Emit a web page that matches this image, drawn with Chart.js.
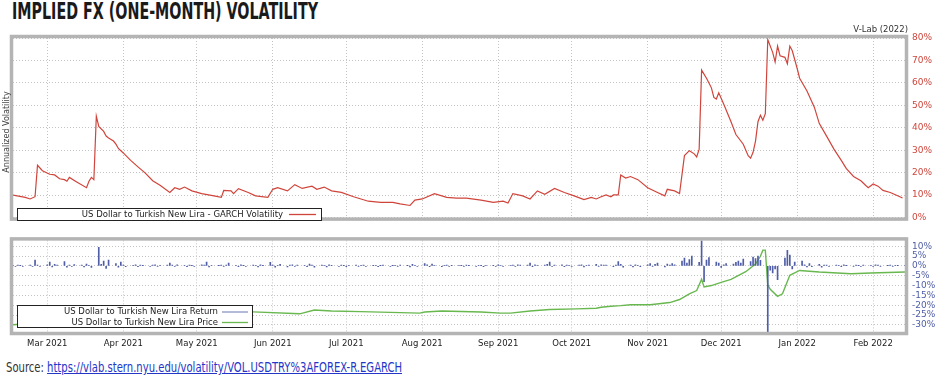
<!DOCTYPE html>
<html>
<head>
<meta charset="utf-8">
<script src="https://cdn.jsdelivr.net/npm/chart.js@4.4.1/dist/chart.umd.min.js"></script>
<style>
  html, body { margin: 0; padding: 0; background: #fff; }
  body { width: 939px; height: 390px; position: relative; overflow: hidden; }
  .title {
    position: absolute; left: 12px; top: 0;
    font: bold 23px/23px 'Liberation Sans Narrow', 'DejaVu Sans Condensed', sans-serif;
    color: #1a1a1a; white-space: nowrap; transform-origin: left top;
  }
  .source {
    position: absolute; left: 6px; top: 360px;
    font: 14px/14px 'Liberation Sans Narrow', 'DejaVu Sans Condensed', sans-serif;
    color: #333; white-space: nowrap; transform-origin: left top;
  }
  .source a { color: #2436c8; text-decoration: underline; }
  canvas { position: absolute; left: 0; }
  #volChart { top: 0; }
  #retChart { top: 228px; }
</style>
</head>
<body>
<div class="title" id="title">IMPLIED FX (ONE-MONTH) VOLATILITY</div>
<canvas id="volChart" width="939" height="230"></canvas>
<canvas id="retChart" width="939" height="122"></canvas>
<div class="source" id="source">Source: <a href="https://vlab.stern.nyu.edu/volatility/VOL.USDTRY%3AFOREX-R.EGARCH">https://vlab.stern.nyu.edu/volatility/VOL.USDTRY%3AFOREX-R.EGARCH</a></div>
<script>
// x axis = days since 15 Feb 2021
const monthDays = [14, 45, 75, 106, 136, 167, 198, 228, 259, 289, 320, 351];
const monthLabels = ['Mar 2021', 'Apr 2021', 'May 2021', 'Jun 2021', 'Jul 2021', 'Aug 2021',
                     'Sep 2021', 'Oct 2021', 'Nov 2021', 'Dec 2021', 'Jan 2022', 'Feb 2022'];

// GARCH volatility (%)
const volDays = [0, 5, 7, 9, 10, 12, 15, 17, 19, 21, 22, 23, 26, 30, 31, 32, 33, 34, 35, 37,
  38, 39, 41, 42, 43, 45, 48, 51, 54, 57, 60, 64, 66, 68, 70, 73, 77, 82, 85, 86,
  89, 90, 92, 96, 99, 104, 106, 108, 112, 115, 118, 122, 124, 127, 130, 134, 139, 145, 150, 155,
  158, 162, 164, 167, 172, 177, 181, 185, 191, 196, 200, 202, 204, 208, 211, 214, 217, 221, 225, 229,
  233, 236, 238, 240, 242, 244, 245, 247, 248, 250, 252, 255, 259, 263, 266, 267, 270, 272, 274, 276,
  278, 279, 280, 281, 283, 285, 286, 287, 288, 290, 293, 295, 298, 300, 301, 302, 303, 304, 305, 306,
  307, 308, 310, 311, 312, 313, 315, 316, 317, 318, 320, 321, 324, 327, 329, 332, 335, 338, 340, 343,
  346, 348, 349, 351, 353, 355, 358, 361, 363];
const volValues = [10, 9, 8.3, 9.3, 23.3, 20.9, 19.3, 19, 17.3, 16.9, 16.2, 17.9, 15.9, 13.3, 16.2, 17.9, 16.9, 45.2, 40.6, 38.4,
  36.3, 35.5, 34.1, 32.7, 30.8, 28.8, 25.5, 22.6, 19.8, 16.4, 14.4, 11.2, 13.3, 12.6, 13.6, 11.9, 10.7, 9.7, 9, 12.1,
  11.9, 10.7, 12.9, 11.2, 9.7, 9, 12.6, 13.3, 11.9, 14.7, 13, 14, 12.6, 13.6, 11.9, 11.2, 9.3, 7.3, 6.8, 6.8,
  6.1, 5.4, 7.8, 8.3, 10.7, 9, 8.7, 8.7, 7.8, 6.8, 7.3, 6.5, 10.7, 9.7, 8.3, 11.9, 10.4, 13, 11.2, 9.7,
  8, 9, 8.3, 9.3, 10.1, 9.3, 10.1, 10.1, 19, 17.6, 18.3, 16.9, 13.3, 11.2, 9.7, 12.6, 11.9, 10.7, 27.6, 29.8,
  28.4, 27, 30.5, 65.7, 62.1, 57.8, 53.5, 52.8, 55.6, 50.6, 42.7, 37, 32.7, 27.6, 26.5, 29.1, 34.1, 42.7, 45.6, 43.4,
  46.3, 79.3, 73.6, 69.3, 76.4, 72.1, 71.4, 68.5, 76.4, 74.3, 66.4, 62.1, 56.4, 49.2, 42, 36.3, 30.5, 25.5, 21.9, 18.3,
  16.4, 14.3, 13.3, 15, 14, 12.1, 11.2, 9.7, 8.7];
const volTicks = [0, 10, 20, 30, 40, 50, 60, 70, 80];

// daily return (%), one value per weekday from Mon 15 Feb 2021
const retValues = [
  0.3, -0.2, 0.4, 0.2, -0.3,   0.4, -0.3, 3.0, 0.5, -0.2,   0.6, 2.0, -0.5, 0.8, 0.4,
  2.2, -0.6, 0.5, -0.3, 0.7,   0.4, -0.5, 0.9, 0.3, -0.8,   9.5, 0.8, 2.5, -1.2, 3.0,
  1.2, -0.6, 2.0, 0.5, -0.4,   0.3, 0.6, -0.4, 0.5, 0.2,   -0.3, 0.4, 0.6, -0.2, 0.3,
  0.5, 1.5, 0.4, -0.3, 0.6,   0.3, -0.4, 0.5, 0.2, -0.3,   0.6, 0.4, 2.0, -0.5, 0.3,
  0.2, 0.5, -0.3, 0.4, 1.5,   0.3, -0.4, 0.6, 0.2, -0.3,   0.4, 0.3, -0.5, 0.6, 0.2,
  1.8, 0.5, -0.6, 0.3, 0.8,   -0.5, 0.4, 0.6, -0.3, 0.5,   0.3, -0.4, 1.0, 0.5, -0.6,
  0.4, 0.3, -0.5, 0.6, 0.2,   -0.3, 0.5, 0.2, -0.4, 0.3,   0.4, -0.2, 0.3, 0.5, -0.3,
  0.2, 0.3, -0.4, 0.2, 0.4,   -0.3, 0.2, 0.3, -0.2, 0.4,   0.2, -0.5, 0.8, 0.3, -0.2,
  1.2, 0.6, -0.4, 0.9, 0.3,   -0.4, 0.3, 0.5, -0.3, 0.2,   0.3, 0.2, -0.3, 0.4, 0.2,
  -0.2, 0.3, 0.2, -0.4, 0.3,   0.2, -0.3, 0.6, 0.3, -0.2,   0.3, 0.5, -0.3, 0.6, 0.4,
  0.5, 1.5, -0.4, 0.6, 0.3,   0.4, 0.8, 2.0, -0.3, 0.5,   0.6, -0.4, 0.5, 0.3, -0.3,
  0.4, 0.6, -0.5, 0.3, 0.5,   0.8, -0.3, 0.6, 0.4, 0.5,   -0.4, 0.5, 2.2, 0.8, -0.6,
  0.5, -0.5, 0.6, 0.3, -0.4,   0.6, 1.2, -0.3, 0.8, 1.5,   -0.5, 0.9, 0.5, 1.2, 0.6,
  2.5, 4.0, 1.5, 3.2, 5.0,   1.8, 14.5, -8.0, 3.0, 4.2,   2.0, 1.5, -0.8, 0.6, 1.2,
  0.9, 1.8, 2.5, 1.4, 3.5,   2.2, 4.5, 3.8, 5.0, 2.8,   -35, -2.2, -3.5, -1.5, -7.0,
  4.0, 8.0, 5.5, -1.5, 2.0,   2.5, 0.6, -0.5, 1.2, -0.4,   0.8, -0.6, 0.5, 0.4, -0.3,
  0.5, 0.3, -0.4, 0.6, 0.2,   -0.3, 0.4, 0.2, -0.3, 0.5,   0.3, -0.2, 0.6, 0.4, -0.3,
  0.2, 0.4, -0.3, 0.3, 0.2,   0.3];
const retTicks = [-30, -25, -20, -15, -10, -5, 0, 5, 10];

// USD/TRY price
const priceDays = [0, 7, 14, 21, 28, 33, 35, 40, 47, 55, 62, 69, 76, 83, 90, 98, 117, 123, 130, 142,
  158, 166, 168, 175, 191, 199, 203, 211, 219, 230, 238, 240, 244, 248, 252, 260, 268, 272, 276, 279,
  281, 282, 285, 289, 293, 299, 303, 305, 306, 307, 308, 309, 312, 314, 317, 321, 329, 342, 350, 364];
const priceValues = [7.2, 7.3, 7.45, 7.5, 7.4, 7.25, 7.95, 8.1, 8.2, 8.15, 8.25, 8.3, 8.35, 8.4, 8.5, 8.39, 8.2, 8.58, 8.48, 8.42,
  8.32, 8.27, 8.38, 8.48, 8.38, 8.27, 8.27, 8.48, 8.64, 8.7, 8.77, 8.87, 8.97, 9.04, 9.14, 9.14, 9.38, 9.73, 10.41, 10.82,
  12.38, 11.3, 11.49, 11.93, 12.38, 13.56, 14.85, 16.3, 17.54, 17.54, 11.57, 11.0, 10.1, 10.41, 12.99, 13.76, 13.5, 13.24, 13.36, 13.5];

const RED = '#d0453b';
const GREEN = '#68b84f';
const BLUE = '#4f5ea6';
const GRID = '#c4c4c4';
const FRAME = '#b4b4b4';

Chart.defaults.font.family = "'DejaVu Sans', sans-serif";
Chart.defaults.animation = false;

// weekdays only
const retDays = [];
for (let d = 0; retDays.length < retValues.length; d++) {
  if (d % 7 < 5) retDays.push(d);
}

function drawLegendBox(ctx, box, rows) {
  ctx.save();
  ctx.fillStyle = '#fff';
  ctx.fillRect(box.x, box.y, box.w, box.h);
  ctx.strokeStyle = '#222';
  ctx.lineWidth = 1;
  ctx.strokeRect(box.x + 0.5, box.y + 0.5, box.w - 1, box.h - 1);
  ctx.font = "8.5px 'DejaVu Sans'";
  ctx.textAlign = 'right';
  ctx.textBaseline = 'middle';
  rows.forEach(r => {
    ctx.fillStyle = '#222';
    ctx.fillText(r.text, r.textRight, r.y);
    ctx.strokeStyle = r.color;
    ctx.lineWidth = 1.3;
    ctx.beginPath();
    ctx.moveTo(r.x1, r.y);
    ctx.lineTo(r.x2, r.y);
    ctx.stroke();
  });
  ctx.restore();
}

function drawFrame(chart) {
  const { ctx, chartArea: a } = chart;
  ctx.save();
  ctx.strokeStyle = FRAME;
  ctx.lineWidth = 3.5;
  ctx.strokeRect(a.left - 1.5, a.top - 1.5, a.right - a.left + 3, a.bottom - a.top + 3);
  ctx.restore();
}

const volFrame = {
  id: 'volFrame',
  afterDraw(chart) {
    const ctx = chart.ctx;
    drawFrame(chart);
    ctx.save();
    ctx.fillStyle = '#333';
    ctx.font = "8.5px 'DejaVu Sans'";
    ctx.textAlign = 'right';
    ctx.textBaseline = 'middle';
    ctx.fillText('V-Lab (2022)', 908, 30);
    ctx.translate(6.5, 132);
    ctx.rotate(-Math.PI / 2);
    ctx.textAlign = 'center';
    ctx.fillStyle = '#444';
    ctx.font = "8px 'DejaVu Sans'";
    ctx.fillText('Annualized Volatility', 0, 0);
    ctx.restore();
    drawLegendBox(ctx, { x: 17, y: 208, w: 305, h: 13 }, [
      { text: chart.data.datasets[0].label, textRight: 283, y: 214.5, x1: 289, x2: 316, color: RED }
    ]);
  }
};

const retFrame = {
  id: 'retFrame',
  afterDraw(chart) {
    drawFrame(chart);
    const ds = chart.data.datasets;
    drawLegendBox(chart.ctx, { x: 17, y: 77, w: 236, h: 23 }, [
      { text: ds[0].label, textRight: 218, y: 84, x1: 222, x2: 248, color: '#8a94c4' },
      { text: ds[1].label, textRight: 218, y: 94.5, x1: 222, x2: 248, color: GREEN }
    ]);
  }
};

const xGrid = { color: GRID, lineWidth: 1, drawTicks: false, offset: false };
const dotted = { display: false, dash: [1, 2] };

new Chart(document.getElementById('volChart'), {
  type: 'line',
  data: {
    datasets: [{
      label: 'US Dollar to Turkish New Lira - GARCH Volatility',
      data: volDays.map((d, i) => ({ x: d, y: volValues[i] })),
      borderColor: RED,
      borderWidth: 1.2,
      pointRadius: 0,
      tension: 0
    }]
  },
  options: {
    responsive: false,
    devicePixelRatio: 1,
    layout: { padding: { left: 13, top: 38, right: 0, bottom: 6 } },
    plugins: { legend: { display: false }, tooltip: { enabled: false } },
    scales: {
      x: {
        type: 'linear', min: 0, max: 364,
        afterBuildTicks: s => { s.ticks = monthDays.map(v => ({ value: v })); },
        afterFit: s => { s.height = 0; },
        ticks: { display: false, autoSkip: false },
        grid: xGrid,
        border: dotted
      },
      y: {
        position: 'right', min: 0, max: 80,
        afterBuildTicks: s => { s.ticks = volTicks.map(v => ({ value: v })); },
        afterFit: s => { s.width = 34; },
        ticks: { color: RED, font: { size: 9 }, padding: 7, autoSkip: false, callback: v => v + '%' },
        grid: { color: GRID, drawTicks: false },
        border: dotted
      }
    }
  },
  plugins: [volFrame]
});

new Chart(document.getElementById('retChart'), {
  type: 'bar',
  data: {
    datasets: [{
      type: 'bar',
      label: 'US Dollar to Turkish New Lira Return',
      data: retDays.map((d, i) => ({ x: d, y: retValues[i] })),
      backgroundColor: BLUE,
      barThickness: 1,
      yAxisID: 'y'
    }, {
      type: 'line',
      label: 'US Dollar to Turkish New Lira Price',
      data: priceDays.map((d, i) => ({ x: d, y: priceValues[i] })),
      borderColor: GREEN,
      borderWidth: 1.4,
      pointRadius: 0,
      tension: 0,
      yAxisID: 'yPrice'
    }]
  },
  options: {
    responsive: false,
    devicePixelRatio: 1,
    layout: { padding: { left: 13, top: 8, right: 0, bottom: 0 } },
    plugins: { legend: { display: false }, tooltip: { enabled: false } },
    scales: {
      x: {
        type: 'linear', min: 0, max: 364, offset: false,
        afterBuildTicks: s => { s.ticks = monthDays.map(v => ({ value: v })); },
        afterFit: s => { s.height = 18; },
        ticks: {
          color: '#1a1a1a', font: { size: 8.5 }, padding: 7, maxRotation: 0, autoSkip: false,
          callback: v => monthLabels[monthDays.indexOf(v)]
        },
        grid: xGrid,
        border: dotted
      },
      y: {
        position: 'right', min: -33.6, max: 13,
        afterBuildTicks: s => { s.ticks = retTicks.map(v => ({ value: v })); },
        afterFit: s => { s.width = 34; },
        ticks: { color: BLUE, font: { size: 9 }, padding: 7, autoSkip: false, callback: v => v + '%' },
        grid: { color: GRID, drawTicks: false },
        border: dotted
      },
      yPrice: {
        type: 'logarithmic', display: false, min: 6.6, max: 19.7
      }
    }
  },
  plugins: [retFrame]
});

// squeeze the condensed headline and source line to their widths
function fitWidth(id, target) {
  const el = document.getElementById(id);
  const w = el.getBoundingClientRect().width;
  el.style.transform = 'scaleX(' + (target / w) + ')';
}
fitWidth('title', 306);
fitWidth('source', 396);
</script>
</body>
</html>
